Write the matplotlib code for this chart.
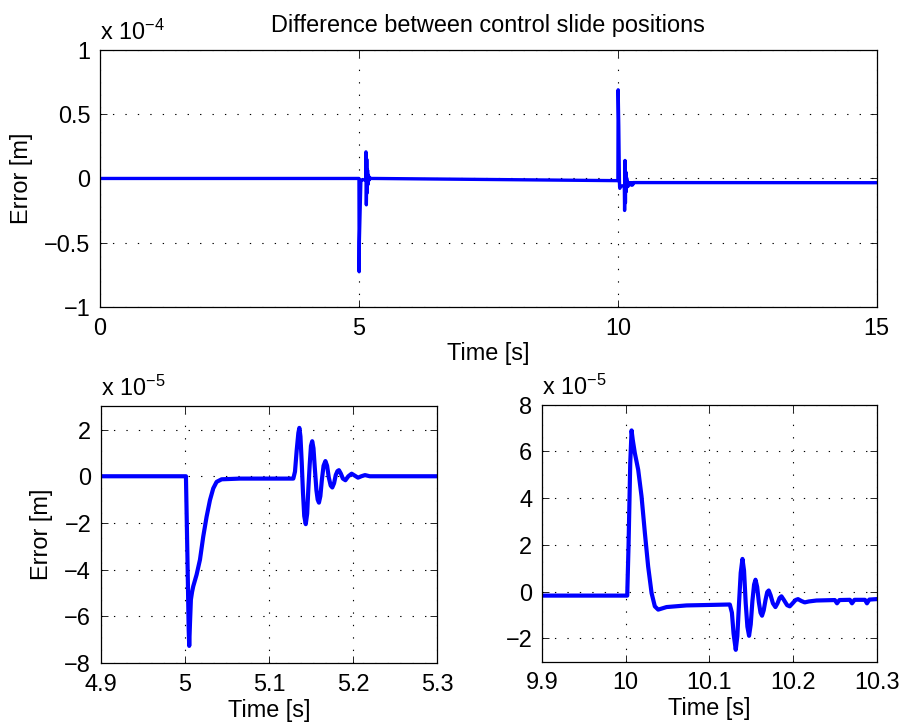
import numpy as np
import matplotlib
matplotlib.use('Agg')
import matplotlib.pyplot as plt

plt.rcParams['font.family'] = ['Liberation Sans', 'DejaVu Sans']
plt.rcParams['mathtext.fontset'] = 'custom'
plt.rcParams['mathtext.rm'] = 'Liberation Sans'
plt.rcParams['mathtext.it'] = 'Liberation Sans:italic'
plt.rcParams['font.size'] = 16.9

# event at 5 s: time [s], error [x 1e-5 m]
t_ev1 = [4.9, 5.0012, 5.0030, 5.0045, 5.0051, 5.0060, 5.0071, 5.0085, 5.0099,
         5.0139, 5.0179, 5.0218, 5.0258, 5.0298, 5.0337, 5.0377, 5.0437, 5.0655,
         5.1290, 5.1310, 5.1330, 5.1350, 5.1362, 5.1375, 5.1390, 5.1405, 5.1420,
         5.1438, 5.1455, 5.1468, 5.1485, 5.1500, 5.1515, 5.1530, 5.1545, 5.1565,
         5.1580, 5.1595, 5.1612, 5.1630, 5.1650, 5.1672, 5.1692, 5.1712, 5.1735,
         5.1754, 5.1775, 5.1795, 5.1815, 5.1833, 5.1855, 5.1880, 5.1910, 5.1945,
         5.1984, 5.2020, 5.2060, 5.2100, 5.2143, 5.2200, 5.3]
e_ev1 = [0.0, 0.0, -3.5, -6.6, -7.26, -6.3, -5.28, -4.95, -4.71,
         -4.21, -3.57, -2.58, -1.73, -1.02, -0.52, -0.24, -0.13, -0.1,
         -0.1, 0.2, 1.1, 1.85, 2.07, 1.7, 0.6, -0.7, -1.7,
         -2.05, -1.6, -0.6, 0.5, 1.3, 1.5, 1.2, 0.4, -0.6,
         -1.0, -1.13, -0.85, -0.15, 0.45, 0.65, 0.45, -0.05, -0.4,
         -0.48, -0.3, 0.05, 0.22, 0.26, 0.12, -0.1, -0.17, 0.0,
         0.11, 0.03, -0.06, 0.0, 0.05, 0.0, 0.0]

# event at 10 s
t_ev2 = [9.9, 10.0019, 10.0035, 10.0055, 10.0071, 10.0085, 10.0110, 10.0150,
         10.0190, 10.0230, 10.0269, 10.0310, 10.0349, 10.0389, 10.0489, 10.0728,
         10.1000, 10.1245, 10.1270, 10.1290, 10.1316, 10.1335, 10.1355, 10.1375,
         10.1396, 10.1415, 10.1435, 10.1455, 10.1475, 10.1495, 10.1515, 10.1535,
         10.1552, 10.1572, 10.1592, 10.1612, 10.1630, 10.1650, 10.1672, 10.1692,
         10.1710, 10.1732, 10.1760, 10.1790, 10.1815, 10.1840, 10.1862, 10.1890,
         10.1930, 10.1961, 10.1995, 10.2030, 10.2060, 10.2100, 10.2140, 10.2190,
         10.2280, 10.2500, 10.2526, 10.2555, 10.2680, 10.2705, 10.2735, 10.2860,
         10.2884, 10.2912, 10.3]
e_ev2 = [-0.17, -0.17, 2.0, 5.5, 6.9, 6.5, 5.93, 5.22,
         4.08, 2.51, 1.08, -0.06, -0.63, -0.77, -0.66, -0.59,
         -0.57, -0.55, -0.9, -1.8, -2.49, -1.9, -0.5, 0.8,
         1.40, 0.9, -0.5, -1.5, -1.89, -1.4, -0.4, 0.3,
         0.51, 0.2, -0.45, -0.9, -1.03, -0.8, -0.35, -0.02,
         0.05, -0.15, -0.5, -0.66, -0.5, -0.27, -0.20, -0.35,
         -0.58, -0.63, -0.5, -0.36, -0.32, -0.40, -0.46, -0.42,
         -0.38, -0.36, -0.5, -0.36, -0.35, -0.5, -0.35, -0.35,
         -0.5, -0.34, -0.32]

# whole run
t_all = [0.0] + t_ev1 + t_ev2 + [15.0]
e_all = [0.0] + e_ev1 + e_ev2 + [-0.33]

xt_top = [0, 5, 10, 15]
yt_top = [-1, -0.5, 0, 0.5, 1]
xt_l = [4.9, 5.0, 5.1, 5.2, 5.3]
xtl_l = ['4.9', '5', '5.1', '5.2', '5.3']
yt_l = [-8, -6, -4, -2, 0, 2]
xt_r = [9.9, 10.0, 10.1, 10.2, 10.3]
xtl_r = ['9.9', '10', '10.1', '10.2', '10.3']
yt_r = [-2, 0, 2, 4, 6, 8]


def style(ax, exp):
    # matlab look: ticks in, dotted grid, box
    ax.tick_params(direction='in', top=True, right=True, length=5, width=0.6, pad=7)
    ax.grid(True, color='black', linestyle=(0, (1.2, 10)), linewidth=0.8)
    for s in ax.spines.values():
        s.set_linewidth(0.9)
    ax.annotate(r'x 10$^{' + exp + '}$', xy=(0, 1), xycoords='axes fraction',
                xytext=(0, 10), textcoords='offset pixels', ha='left', va='baseline')


def fmt(v):
    s = ('%g' % v)
    return s.replace('-', '\u2212')


fig = plt.figure(figsize=(9.01, 7.24), dpi=100)

ax1 = fig.add_axes([0.111, 0.576, 0.862, 0.355])
ax1.plot(t_all, np.array(e_all) / 10.0, color='blue', linewidth=2.4)
ax1.set_xlim(0, 15)
ax1.set_ylim(-1, 1)
ax1.set_xticks(xt_top)
ax1.set_yticks(yt_top)
ax1.set_yticklabels([fmt(v) for v in yt_top])
ax1.set_xlabel('Time [s]', labelpad=2)
ax1.set_ylabel('Error [m]', labelpad=8)
ax1.set_title('Difference between control slide positions', pad=13, fontsize=16.9)
style(ax1, '-4')

ax2 = fig.add_axes([0.112, 0.084, 0.373, 0.355])
ax2.plot(t_ev1, e_ev1, color='blue', linewidth=3.0)
ax2.set_xlim(4.9, 5.3)
ax2.set_ylim(-8, 3)
ax2.set_xticks(xt_l)
ax2.set_xticklabels(xtl_l)
ax2.set_yticks(yt_l)
ax2.set_yticklabels([fmt(v) for v in yt_l])
ax2.set_xlabel('Time [s]', labelpad=2)
ax2.set_ylabel('Error [m]', labelpad=8)
style(ax2, '-5')

ax3 = fig.add_axes([0.6015, 0.086, 0.3715, 0.355])
ax3.plot(t_ev2, e_ev2, color='blue', linewidth=3.0)
ax3.set_xlim(9.9, 10.3)
ax3.set_ylim(-3, 8)
ax3.set_xticks(xt_r)
ax3.set_xticklabels(xtl_r)
ax3.set_yticks(yt_r)
ax3.set_yticklabels([fmt(v) for v in yt_r])
ax3.set_xlabel('Time [s]', labelpad=2)
style(ax3, '-5')

fig.savefig('out.png', dpi=100)
